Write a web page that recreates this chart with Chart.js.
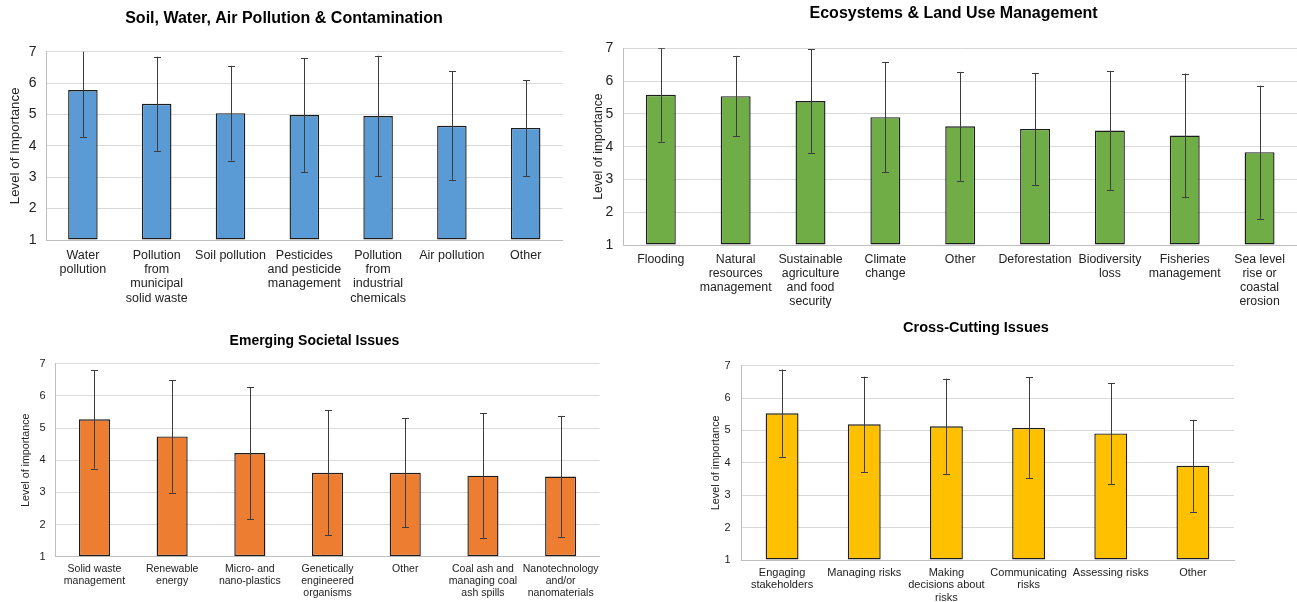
<!DOCTYPE html>
<html>
<head>
<meta charset="utf-8">
<title>Level of importance by issue area</title>
<script src="https://cdn.jsdelivr.net/npm/chart.js@4.4.1/dist/chart.umd.min.js"></script>
<style>
  html, body { margin: 0; padding: 0; background: #ffffff; overflow: hidden; }
  body { width: 1297px; height: 602px; position: relative; }
  canvas { position: absolute; }
</style>
</head>
<body>
<canvas id="soil"></canvas>
<canvas id="eco"></canvas>
<canvas id="society"></canvas>
<canvas id="cross"></canvas>
<script>
// ---- Data: mean level of importance and standard deviation per issue ----
const yTicks = [1, 2, 3, 4, 5, 6, 7];

const soilCategories = [
  ["Water", "pollution"],
  ["Pollution", "from", "municipal", "solid waste"],
  ["Soil pollution"],
  ["Pesticides", "and pesticide", "management"],
  ["Pollution", "from", "industrial", "chemicals"],
  ["Air pollution"],
  ["Other"]
];
const soilMeans = [5.78, 5.34, 5.04, 4.98, 4.95, 4.64, 4.57];
const soilSD    = [1.51, 1.50, 1.51, 1.81, 1.92, 1.73, 1.53];

const ecoCategories = [
  ["Flooding"],
  ["Natural", "resources", "management"],
  ["Sustainable", "agriculture", "and food", "security"],
  ["Climate", "change"],
  ["Other"],
  ["Deforestation"],
  ["Biodiversity", "loss"],
  ["Fisheries", "management"],
  ["Sea level", "rise or", "coastal", "erosion"]
];
const ecoMeans = [5.58, 5.54, 5.39, 4.90, 4.62, 4.54, 4.49, 4.34, 3.83];
const ecoSD    = [1.43, 1.23, 1.58, 1.68, 1.66, 1.71, 1.81, 1.89, 2.03];

const societyCategories = [
  ["Solid waste", "management"],
  ["Renewable", "energy"],
  ["Micro- and", "nano-plastics"],
  ["Genetically", "engineered", "organisms"],
  ["Other"],
  ["Coal ash and", "managing coal", "ash spills"],
  ["Nanotechnology", "and/or", "nanomaterials"]
];
const societyMeans = [5.27, 4.74, 4.22, 3.61, 3.61, 3.52, 3.49];
const societySD    = [1.53, 1.75, 2.05, 1.94, 1.69, 1.94, 1.89];

const crossCategories = [
  ["Engaging", "stakeholders"],
  ["Managing risks"],
  ["Making", "decisions about", "risks"],
  ["Communicating", "risks"],
  ["Assessing risks"],
  ["Other"]
];
const crossMeans = [5.53, 5.19, 5.13, 5.08, 4.91, 3.91];
const crossSD    = [1.35, 1.47, 1.47, 1.56, 1.56, 1.42];

// ---- Styling ----
const FONT = "'Liberation Sans', Arial, Helvetica, sans-serif";
Chart.defaults.font.family = FONT;
Chart.defaults.color = '#222222';

// Draws +/- one standard deviation whiskers on every bar, clipped to the plot area
const errorBarPlugin = {
  id: 'errorBars',
  afterDatasetsDraw(chart) {
    const { ctx, chartArea: area } = chart;
    const yScale = chart.scales.y;
    ctx.save();
    ctx.beginPath();
    ctx.rect(area.left, area.top, area.right - area.left, area.bottom - area.top);
    ctx.clip();
    ctx.strokeStyle = '#3c3c3c';
    ctx.lineWidth = 1;
    chart.data.datasets.forEach((ds, di) => {
      const meta = chart.getDatasetMeta(di);
      meta.data.forEach((bar, i) => {
        const mean = ds.data[i];
        const err = ds.errors[i];
        const x = Math.round(bar.x) + 0.5;
        const yHi = yScale.getPixelForValue(mean + err);
        const yLo = yScale.getPixelForValue(mean - err);
        const cap = 3.5;
        ctx.beginPath();
        ctx.moveTo(x, yHi);
        ctx.lineTo(x, yLo);
        ctx.moveTo(x - cap, Math.round(yHi) + 0.5);
        ctx.lineTo(x + cap, Math.round(yHi) + 0.5);
        ctx.moveTo(x - cap, Math.round(yLo) + 0.5);
        ctx.lineTo(x + cap, Math.round(yLo) + 0.5);
        ctx.stroke();
      });
    });
    ctx.restore();
  }
};

// Panel heading, centred on a given point of the canvas
const panelTitlePlugin = {
  id: 'panelTitle',
  afterDraw(chart, args, opts) {
    const ctx = chart.ctx;
    ctx.save();
    ctx.fillStyle = '#000000';
    ctx.font = `bold ${opts.size}px ${FONT}`;
    ctx.textAlign = 'center';
    ctx.textBaseline = 'middle';
    ctx.fillText(opts.text, opts.x, opts.y);
    ctx.restore();
  }
};

function makePanel(id, spec) {
  const canvas = document.getElementById(id);
  canvas.width = spec.box.w;
  canvas.height = spec.box.h;
  canvas.style.left = spec.box.x + 'px';
  canvas.style.top = spec.box.y + 'px';
  canvas.style.width = spec.box.w + 'px';
  canvas.style.height = spec.box.h + 'px';

  return new Chart(canvas, {
    type: 'bar',
    data: {
      labels: spec.categories,
      datasets: [{
        data: spec.means,
        errors: spec.sd,
        base: yTicks[0],
        backgroundColor: spec.color,
        borderColor: '#1c1c1c',
        borderWidth: 1.4,
        borderSkipped: false,
        barPercentage: 0.40,
        categoryPercentage: 1.0
      }]
    },
    options: {
      responsive: false,
      animation: false,
      devicePixelRatio: 1,
      events: [],
      layout: { padding: spec.padding },
      plugins: {
        legend: { display: false },
        tooltip: { enabled: false },
        title: { display: false },
        panelTitle: {
          text: spec.title,
          size: spec.titleSize,
          x: spec.titleAt[0] - spec.box.x,
          y: spec.titleAt[1] - spec.box.y
        }
      },
      scales: {
        x: {
          grid: { display: false, drawTicks: false },
          border: { display: true, color: '#bfbfbf', width: 1 },
          ticks: {
            autoSkip: false,
            maxRotation: 0,
            minRotation: 0,
            padding: spec.xTickPad,
            color: '#222222',
            font: { family: FONT, size: spec.xTickSize, lineHeight: spec.xTickLine }
          },
          afterFit(scale) { scale.height = spec.xHeight; }
        },
        y: {
          min: yTicks[0],
          max: yTicks[yTicks.length - 1],
          afterBuildTicks(scale) { scale.ticks = yTicks.map(v => ({ value: v })); },
          grid: { color: '#d9d9d9', lineWidth: 1, drawTicks: false },
          border: { display: true, color: '#bfbfbf', width: 1 },
          ticks: {
            padding: spec.yTickPad,
            color: '#222222',
            font: { family: FONT, size: spec.yTickSize }
          },
          title: {
            display: true,
            text: spec.yTitle,
            color: '#222222',
            font: { family: FONT, size: spec.yTitleSize, lineHeight: 1.2 },
            padding: { top: spec.yTitlePad, bottom: 0 }
          },
          afterFit(scale) { scale.width = spec.yWidth; }
        }
      }
    },
    plugins: [errorBarPlugin, panelTitlePlugin]
  });
}

makePanel('soil', {
  categories: soilCategories, means: soilMeans, sd: soilSD,
  color: '#5b9bd5',
  title: 'Soil, Water, Air Pollution & Contamination',
  titleAt: [284, 18.3], titleSize: 16,
  yTitle: 'Level of Importance',
  box: { x: 0, y: 0, w: 580, h: 320 },
  padding: { left: 4, right: 17.4, top: 51.7, bottom: 0 },
  yWidth: 42, xHeight: 80,
  yTitleSize: 13.3, yTitlePad: 3,
  yTickSize: 14, yTickPad: 9.5,
  xTickSize: 12.5, xTickLine: 1.15, xTickPad: 8
});

makePanel('eco', {
  categories: ecoCategories, means: ecoMeans, sd: ecoSD,
  color: '#70ad47',
  title: 'Ecosystems & Land Use Management',
  titleAt: [953.6, 13.3], titleSize: 16,
  yTitle: 'Level of importance',
  box: { x: 590, y: 0, w: 707, h: 320 },
  padding: { left: 2, right: 0, top: 48.3, bottom: 0 },
  yWidth: 31.4, xHeight: 75,
  yTitleSize: 12.2, yTitlePad: -0.3,
  yTickSize: 14, yTickPad: 10,
  xTickSize: 12.3, xTickLine: 1.15, xTickPad: 7.2
});

makePanel('society', {
  categories: societyCategories, means: societyMeans, sd: societySD,
  color: '#ed7d31',
  title: 'Emerging Societal Issues',
  titleAt: [314.4, 340.7], titleSize: 14,
  yTitle: 'Level of importance',
  box: { x: 0, y: 320, w: 620, h: 282 },
  padding: { left: 16, right: 20.5, top: 43.7, bottom: 0 },
  yWidth: 39.6, xHeight: 45.3,
  yTitleSize: 10.7, yTitlePad: 3.6,
  yTickSize: 11, yTickPad: 10,
  xTickSize: 10.5, xTickLine: 1.16, xTickPad: 6.3
});

makePanel('cross', {
  categories: crossCategories, means: crossMeans, sd: crossSD,
  color: '#ffc000',
  title: 'Cross-Cutting Issues',
  titleAt: [976, 328.3], titleSize: 14.5,
  yTitle: 'Level of importance',
  box: { x: 690, y: 320, w: 607, h: 282 },
  padding: { left: 16, right: 63, top: 45.7, bottom: 0 },
  yWidth: 35, xHeight: 42,
  yTitleSize: 10.9, yTitlePad: 3.06,
  yTickSize: 11, yTickPad: 10.5,
  xTickSize: 11, xTickLine: 1.11, xTickPad: 7
});
</script>
</body>
</html>
